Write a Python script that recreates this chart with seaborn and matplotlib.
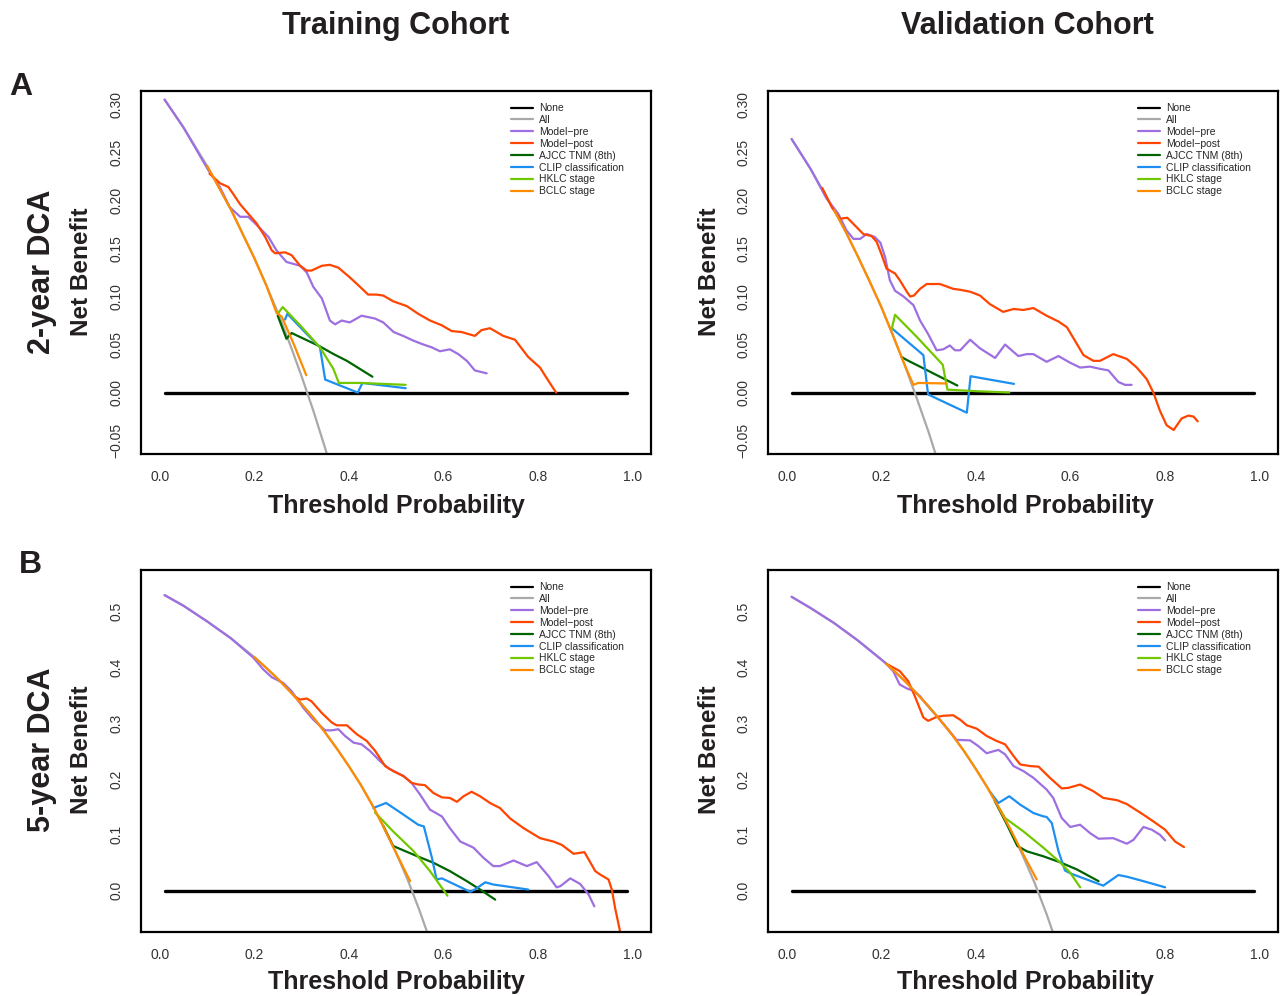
import numpy as np
import pandas as pd
import matplotlib
matplotlib.use("Agg")
import matplotlib.pyplot as plt
import seaborn as sns

# ------------------------------------------
# Data
# ------------------------------------------

labels = ["None", "All", "Model\u2212pre", "Model\u2212post", "AJCC TNM (8th)",
          "CLIP classification", "HKLC stage", "BCLC stage"]
colors = ["#000000", "#A9A9A9", "#9E6FE0", "#FF4500", "#006400",
          "#1C8FF0", "#72C800", "#FF8C00"]

none_x = [0.01, 0.99]
none_y = [0.0, 0.0]

# 2-year, training cohort
tr2_all_x = [0.01, 0.05, 0.10, 0.15, 0.20, 0.225, 0.25, 0.275, 0.30, 0.325, 0.35, 0.36]
tr2_all_y = [0.305, 0.276, 0.236, 0.191, 0.140, 0.112, 0.083, 0.051, 0.017, -0.019, -0.058, -0.075]
tr2_pre_x = [0.01, 0.05, 0.102, 0.127, 0.148, 0.170, 0.187, 0.200, 0.230, 0.247, 0.268,
             0.297, 0.311, 0.325, 0.343, 0.360, 0.371, 0.385, 0.402, 0.427, 0.456, 0.473,
             0.495, 0.515, 0.537, 0.558, 0.576, 0.593, 0.614, 0.632, 0.650, 0.667, 0.692]
tr2_pre_y = [0.305, 0.276, 0.232, 0.214, 0.193, 0.183, 0.183, 0.177, 0.162, 0.148, 0.136,
             0.132, 0.125, 0.110, 0.098, 0.075, 0.071, 0.075, 0.073, 0.080, 0.077, 0.073,
             0.063, 0.059, 0.054, 0.050, 0.047, 0.043, 0.045, 0.040, 0.033, 0.023, 0.020]
tr2_post_x = [0.105, 0.127, 0.145, 0.155, 0.170, 0.191, 0.205, 0.223, 0.237, 0.244, 0.265,
              0.279, 0.297, 0.311, 0.321, 0.343, 0.360, 0.378, 0.402, 0.424, 0.441, 0.459,
              0.473, 0.494, 0.523, 0.547, 0.572, 0.597, 0.618, 0.639, 0.667, 0.681, 0.699,
              0.727, 0.752, 0.780, 0.805, 0.823, 0.839]
tr2_post_y = [0.228, 0.218, 0.214, 0.207, 0.196, 0.184, 0.176, 0.162, 0.148, 0.145, 0.146,
              0.143, 0.132, 0.127, 0.127, 0.132, 0.133, 0.130, 0.120, 0.110, 0.102, 0.102,
              0.101, 0.095, 0.090, 0.082, 0.075, 0.070, 0.064, 0.063, 0.059, 0.065, 0.067,
              0.059, 0.055, 0.037, 0.026, 0.012, 0.000]
tr2_ajcc_x = [0.2495, 0.268, 0.279, 0.339, 0.368, 0.396, 0.450]
tr2_ajcc_y = [0.080, 0.056, 0.062, 0.048, 0.040, 0.033, 0.0165]
tr2_clip_x = [0.265, 0.270, 0.307, 0.339, 0.350, 0.419, 0.429, 0.5205]
tr2_clip_y = [0.076, 0.082, 0.063, 0.047, 0.0135, 0.000, 0.010, 0.0045]
tr2_hklc_x = [0.2495, 0.260, 0.297, 0.339, 0.367, 0.379, 0.424, 0.5205]
tr2_hklc_y = [0.082, 0.089, 0.070, 0.047, 0.025, 0.010, 0.010, 0.008]
tr2_bclc_x = [0.10, 0.15, 0.20, 0.225, 0.247, 0.258, 0.283, 0.310]
tr2_bclc_y = [0.236, 0.191, 0.140, 0.112, 0.083, 0.079, 0.051, 0.018]

# 2-year, validation cohort
va2_all_x = [0.01, 0.05, 0.10, 0.125, 0.15, 0.175, 0.20, 0.225, 0.25, 0.275, 0.30, 0.32]
va2_all_y = [0.264, 0.233, 0.190, 0.167, 0.142, 0.116, 0.089, 0.059, 0.028, -0.006, -0.041, -0.072]
va2_pre_x = [0.01, 0.05, 0.084, 0.109, 0.126, 0.141, 0.155, 0.169, 0.186, 0.198, 0.208,
             0.218, 0.229, 0.247, 0.268, 0.282, 0.299, 0.317, 0.331, 0.345, 0.356, 0.367,
             0.388, 0.409, 0.441, 0.462, 0.490, 0.508, 0.522, 0.550, 0.575, 0.600, 0.621,
             0.642, 0.660, 0.681, 0.702, 0.716, 0.730]
va2_pre_y = [0.264, 0.233, 0.202, 0.186, 0.169, 0.160, 0.160, 0.165, 0.162, 0.156, 0.141,
             0.117, 0.106, 0.100, 0.091, 0.075, 0.061, 0.044, 0.045, 0.049, 0.044, 0.044,
             0.055, 0.046, 0.036, 0.050, 0.038, 0.040, 0.040, 0.032, 0.038, 0.031, 0.026,
             0.027, 0.025, 0.023, 0.011, 0.008, 0.008]
va2_post_x = [0.075, 0.095, 0.112, 0.128, 0.144, 0.162, 0.179, 0.190, 0.201, 0.211, 0.229,
              0.239, 0.254, 0.261, 0.269, 0.282, 0.296, 0.324, 0.352, 0.367, 0.388, 0.409,
              0.430, 0.458, 0.480, 0.501, 0.522, 0.550, 0.575, 0.593, 0.610, 0.628, 0.649,
              0.663, 0.691, 0.720, 0.741, 0.762, 0.776, 0.790, 0.804, 0.819, 0.836, 0.850,
              0.861, 0.870]
va2_post_y = [0.213, 0.193, 0.181, 0.182, 0.174, 0.165, 0.163, 0.157, 0.143, 0.129, 0.124,
              0.117, 0.105, 0.100, 0.101, 0.108, 0.113, 0.113, 0.108, 0.107, 0.105, 0.101,
              0.092, 0.084, 0.087, 0.086, 0.088, 0.080, 0.074, 0.068, 0.054, 0.039, 0.033,
              0.033, 0.040, 0.035, 0.026, 0.014, 0.000, -0.019, -0.034, -0.039, -0.027, -0.024,
              -0.025, -0.030]
va2_ajcc_x = [0.243, 0.2535, 0.361]
va2_ajcc_y = [0.037, 0.034, 0.0073]
va2_clip_x = [0.222, 0.289, 0.299, 0.381, 0.389, 0.481]
va2_clip_y = [0.067, 0.039, -0.002, -0.021, 0.017, 0.009]
va2_hklc_x = [0.222, 0.229, 0.275, 0.330, 0.340, 0.402, 0.471]
va2_hklc_y = [0.066, 0.081, 0.058, 0.029, 0.003, 0.0014, 0.0]
va2_bclc_x = [0.10, 0.125, 0.15, 0.175, 0.20, 0.225, 0.25, 0.268, 0.278, 0.338]
va2_bclc_y = [0.190, 0.167, 0.142, 0.116, 0.089, 0.059, 0.028, 0.008, 0.010, 0.0094]

# 5-year, training cohort
tr5_all_x = [0.01, 0.05, 0.10, 0.15, 0.20, 0.225, 0.25, 0.275, 0.30, 0.325, 0.35, 0.375,
             0.40, 0.425, 0.45, 0.475, 0.50, 0.525, 0.55, 0.57]
tr5_all_y = [0.529, 0.510, 0.482, 0.452, 0.418, 0.399, 0.379, 0.357, 0.334, 0.310, 0.283,
             0.254, 0.223, 0.190, 0.153, 0.112, 0.068, 0.019, -0.036, -0.084]
tr5_pre_x = [0.01, 0.05, 0.10, 0.15, 0.198, 0.219, 0.237, 0.261, 0.279, 0.304, 0.325, 0.350,
             0.364, 0.378, 0.392, 0.410, 0.427, 0.445, 0.466, 0.484, 0.516, 0.533, 0.551,
             0.572, 0.597, 0.614, 0.636, 0.664, 0.685, 0.706, 0.720, 0.749, 0.777, 0.798,
             0.823, 0.840, 0.848, 0.869, 0.890, 0.908, 0.920]
tr5_pre_y = [0.529, 0.510, 0.482, 0.452, 0.417, 0.396, 0.382, 0.372, 0.357, 0.327, 0.306,
             0.287, 0.287, 0.289, 0.277, 0.265, 0.262, 0.250, 0.232, 0.219, 0.205, 0.193,
             0.172, 0.145, 0.133, 0.112, 0.088, 0.077, 0.059, 0.044, 0.044, 0.054, 0.044,
             0.051, 0.026, 0.006, 0.008, 0.022, 0.012, -0.007, -0.028]
tr5_post_x = [0.286, 0.297, 0.311, 0.321, 0.343, 0.364, 0.374, 0.396, 0.417, 0.438, 0.456,
              0.477, 0.494, 0.516, 0.533, 0.547, 0.561, 0.579, 0.597, 0.614, 0.629, 0.643,
              0.660, 0.678, 0.699, 0.720, 0.742, 0.770, 0.805, 0.833, 0.851, 0.876, 0.899,
              0.922, 0.932, 0.950, 0.957, 0.964, 0.975]
tr5_post_y = [0.347, 0.342, 0.344, 0.339, 0.318, 0.301, 0.296, 0.296, 0.280, 0.268, 0.250,
              0.223, 0.214, 0.205, 0.193, 0.190, 0.189, 0.175, 0.167, 0.166, 0.159, 0.169,
              0.177, 0.169, 0.157, 0.148, 0.129, 0.112, 0.094, 0.088, 0.082, 0.066, 0.069,
              0.035, 0.029, 0.020, 0.002, -0.031, -0.075]
tr5_ajcc_x = [0.473, 0.494, 0.516, 0.544, 0.579, 0.614, 0.650, 0.678, 0.710]
tr5_ajcc_y = [0.116, 0.080, 0.072, 0.062, 0.050, 0.035, 0.017, 0.002, -0.016]
tr5_clip_x = [0.452, 0.479, 0.516, 0.547, 0.559, 0.576, 0.586, 0.597, 0.657, 0.667, 0.689,
              0.706, 0.780]
tr5_clip_y = [0.148, 0.157, 0.136, 0.118, 0.115, 0.059, 0.020, 0.022, -0.002, 0.002, 0.015,
              0.011, 0.002]
tr5_hklc_x = [0.4555, 0.494, 0.537, 0.572, 0.609]
tr5_hklc_y = [0.140, 0.106, 0.071, 0.035, -0.009]
tr5_bclc_x = [0.20, 0.225, 0.25, 0.275, 0.30, 0.325, 0.35, 0.375, 0.40, 0.425, 0.45, 0.475,
              0.50, 0.53]
tr5_bclc_y = [0.418, 0.399, 0.379, 0.357, 0.334, 0.310, 0.283, 0.254, 0.223, 0.190, 0.153,
              0.112, 0.068, 0.017]

# 5-year, validation cohort
va5_all_x = [0.01, 0.05, 0.10, 0.15, 0.20, 0.225, 0.25, 0.275, 0.30, 0.325, 0.35, 0.375,
             0.40, 0.425, 0.45, 0.475, 0.50, 0.525, 0.55, 0.57]
va5_all_y = [0.526, 0.506, 0.479, 0.448, 0.414, 0.395, 0.375, 0.353, 0.330, 0.305, 0.279,
             0.250, 0.218, 0.184, 0.147, 0.107, 0.062, 0.013, -0.042, -0.091]
va5_pre_x = [0.01, 0.05, 0.10, 0.15, 0.211, 0.225, 0.239, 0.254, 0.268, 0.282, 0.296, 0.317,
             0.338, 0.359, 0.388, 0.405, 0.423, 0.448, 0.462, 0.480, 0.501, 0.522, 0.550,
             0.564, 0.582, 0.600, 0.621, 0.642, 0.660, 0.691, 0.720, 0.734, 0.755, 0.773,
             0.790, 0.801]
va5_pre_y = [0.526, 0.506, 0.479, 0.448, 0.406, 0.393, 0.369, 0.362, 0.358, 0.348, 0.333,
             0.313, 0.292, 0.270, 0.269, 0.259, 0.246, 0.252, 0.244, 0.223, 0.214, 0.202,
             0.181, 0.166, 0.130, 0.114, 0.118, 0.103, 0.093, 0.094, 0.084, 0.091, 0.114,
             0.109, 0.100, 0.090]
va5_post_x = [0.211, 0.239, 0.257, 0.271, 0.289, 0.299, 0.317, 0.331, 0.352, 0.367, 0.381,
              0.402, 0.423, 0.444, 0.462, 0.480, 0.494, 0.515, 0.533, 0.557, 0.582, 0.596,
              0.621, 0.649, 0.670, 0.699, 0.720, 0.755, 0.776, 0.801, 0.822, 0.841]
va5_post_y = [0.406, 0.393, 0.375, 0.348, 0.310, 0.304, 0.311, 0.313, 0.314, 0.306, 0.296,
              0.290, 0.277, 0.268, 0.262, 0.241, 0.226, 0.223, 0.222, 0.202, 0.183, 0.184,
              0.190, 0.178, 0.166, 0.162, 0.155, 0.136, 0.124, 0.109, 0.088, 0.078]
va5_ajcc_x = [0.44, 0.465, 0.488, 0.508, 0.543, 0.578, 0.614, 0.660]
va5_ajcc_y = [0.161, 0.120, 0.080, 0.0705, 0.0615, 0.051, 0.038, 0.017]
va5_clip_x = [0.430, 0.448, 0.471, 0.494, 0.522, 0.543, 0.550, 0.561, 0.575, 0.589, 0.603,
              0.635, 0.670, 0.702, 0.720, 0.755, 0.801]
va5_clip_y = [0.177, 0.157, 0.169, 0.154, 0.139, 0.133, 0.132, 0.121, 0.071, 0.036, 0.030,
              0.020, 0.009, 0.028, 0.025, 0.017, 0.006]
va5_hklc_x = [0.45, 0.462, 0.501, 0.543, 0.578, 0.600, 0.621]
va5_hklc_y = [0.147, 0.130, 0.106, 0.077, 0.051, 0.032, 0.006]
va5_bclc_x = [0.211, 0.225, 0.25, 0.275, 0.30, 0.325, 0.35, 0.375, 0.40, 0.425, 0.45, 0.475,
              0.50, 0.529]
va5_bclc_y = [0.406, 0.395, 0.375, 0.353, 0.330, 0.305, 0.279, 0.250, 0.218, 0.184, 0.147,
              0.107, 0.066, 0.020]

# ------------------------------------------
# Style
# ------------------------------------------

sns.set_style("white")
plt.rcParams["font.family"] = ["Liberation Sans", "DejaVu Sans"]
TXT = "#231F20"

W, H = 1283, 996
fig = plt.figure(figsize=(W / 100, H / 100), dpi=100)


def px_axes(l, t, r, b):
    return fig.add_axes([l / W, 1 - b / H, (r - l) / W, (b - t) / H])


def panel(ax, series, ylim, yticks, yfmt):
    frames = []
    for lab, (xs, ys) in zip(labels, series):
        frames.append(pd.DataFrame({"pt": xs, "nb": ys, "model": lab}))
    df = pd.concat(frames, ignore_index=True)
    sns.lineplot(data=df, x="pt", y="nb", hue="model", hue_order=labels,
                 palette=dict(zip(labels, colors)), estimator=None, sort=False,
                 lw=1.6, ax=ax)
    ax.lines[0].set_linewidth(2.4)
    handles, labs = ax.get_legend_handles_labels()
    ax.legend(handles, labs, loc="upper left", bbox_to_anchor=(0.722, 0.972),
              frameon=False, fontsize=7.5, handlelength=2.1, handletextpad=0.6,
              labelspacing=0.18, borderaxespad=0, borderpad=0.2)
    ax.set_xlim(-0.04, 1.04)
    ax.set_ylim(*ylim)
    ax.set_xticks([0.0, 0.2, 0.4, 0.6, 0.8, 1.0])
    ax.set_xticklabels(["0.0", "0.2", "0.4", "0.6", "0.8", "1.0"])
    ax.set_yticks(yticks)
    ax.set_yticklabels([yfmt.format(v).replace("-", "\u2212") for v in yticks],
                       rotation=90, va="center")
    ax.tick_params(axis="both", direction="out", length=4.5, width=0.8,
                   color="#555555", labelcolor="#333333", labelsize=10)
    ax.tick_params(axis="x", pad=7)
    ax.tick_params(axis="y", pad=8)
    ax.set_xlabel("")
    ax.set_ylabel("")
    for s in ax.spines.values():
        s.set_visible(True)
        s.set_color("black")
        s.set_linewidth(1.6)


top_lim = (-0.064, 0.314)
top_ticks = [-0.05, 0.0, 0.05, 0.10, 0.15, 0.20, 0.25, 0.30]
bot_lim = (-0.074, 0.574)
bot_ticks = [0.0, 0.1, 0.2, 0.3, 0.4, 0.5]

ax1 = px_axes(141, 91, 651, 454)
panel(ax1, [(none_x, none_y), (tr2_all_x, tr2_all_y), (tr2_pre_x, tr2_pre_y),
            (tr2_post_x, tr2_post_y), (tr2_ajcc_x, tr2_ajcc_y), (tr2_clip_x, tr2_clip_y),
            (tr2_hklc_x, tr2_hklc_y), (tr2_bclc_x, tr2_bclc_y)],
      top_lim, top_ticks, "{:.2f}")

ax2 = px_axes(768, 91, 1278, 454)
panel(ax2, [(none_x, none_y), (va2_all_x, va2_all_y), (va2_pre_x, va2_pre_y),
            (va2_post_x, va2_post_y), (va2_ajcc_x, va2_ajcc_y), (va2_clip_x, va2_clip_y),
            (va2_hklc_x, va2_hklc_y), (va2_bclc_x, va2_bclc_y)],
      top_lim, top_ticks, "{:.2f}")

ax3 = px_axes(141, 570, 651, 932)
panel(ax3, [(none_x, none_y), (tr5_all_x, tr5_all_y), (tr5_pre_x, tr5_pre_y),
            (tr5_post_x, tr5_post_y), (tr5_ajcc_x, tr5_ajcc_y), (tr5_clip_x, tr5_clip_y),
            (tr5_hklc_x, tr5_hklc_y), (tr5_bclc_x, tr5_bclc_y)],
      bot_lim, bot_ticks, "{:.1f}")

ax4 = px_axes(768, 570, 1278, 932)
panel(ax4, [(none_x, none_y), (va5_all_x, va5_all_y), (va5_pre_x, va5_pre_y),
            (va5_post_x, va5_post_y), (va5_ajcc_x, va5_ajcc_y), (va5_clip_x, va5_clip_y),
            (va5_hklc_x, va5_hklc_y), (va5_bclc_x, va5_bclc_y)],
      bot_lim, bot_ticks, "{:.1f}")


# ------------------------------------------
# Labels around the panels
# ------------------------------------------

def ftext(x, y, s, size, rot=0):
    fig.text(x / W, 1 - y / H, s, ha="center", va="center", rotation=rot,
             fontsize=size, fontweight="bold", color=TXT)


ftext(396, 26, "Training Cohort", 22)
ftext(1027, 26, "Validation Cohort", 22)
ftext(21, 87, "A", 23)
ftext(30, 565, "B", 23)
ftext(42, 272, "2-year DCA", 22, 90)
ftext(42, 750, "5-year DCA", 22, 90)
for yc in (272, 750):
    ftext(82, yc, "Net Benefit", 17.5, 90)
    ftext(710, yc, "Net Benefit", 17.5, 90)
for yc in (506, 982):
    ftext(396, yc, "Threshold Probability", 18)
    ftext(1025, yc, "Threshold Probability", 18)

plt.savefig("out.png", dpi=100)
